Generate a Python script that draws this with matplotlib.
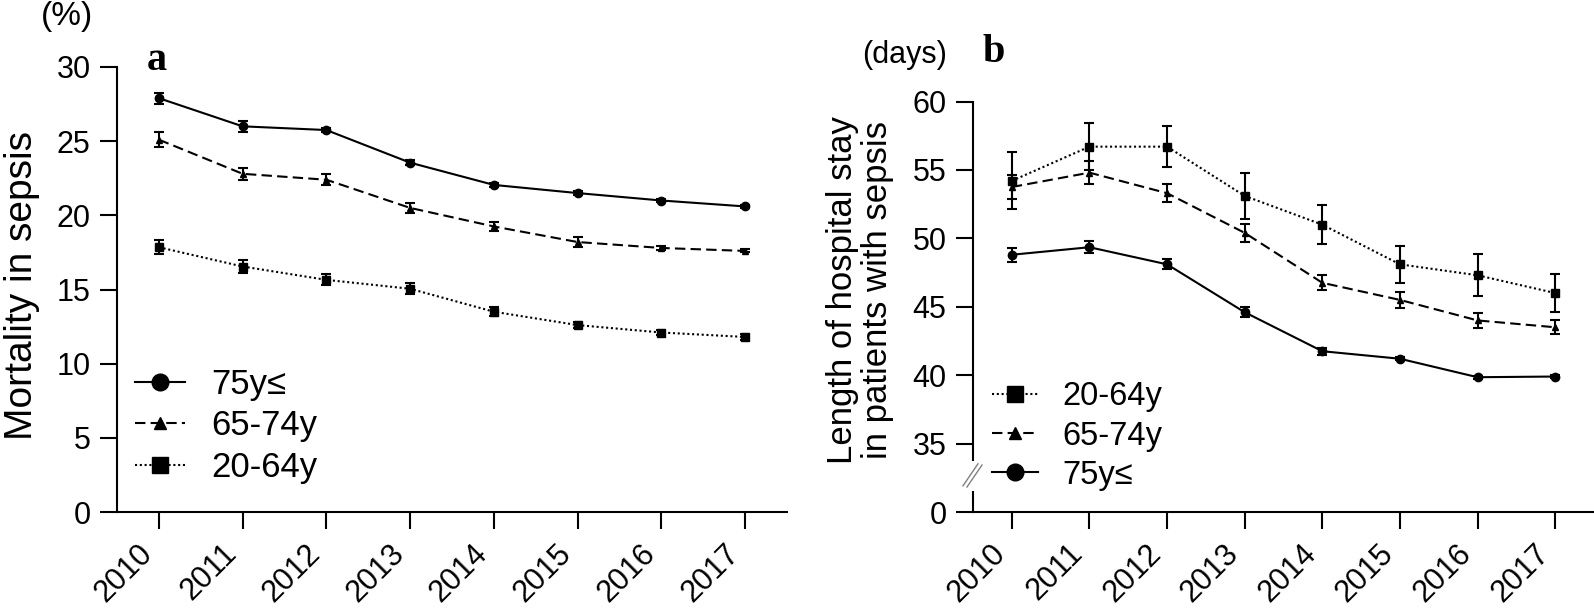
import matplotlib
matplotlib.use("Agg")
import matplotlib.pyplot as plt
from matplotlib.lines import Line2D

plt.rcParams['font.family'] = ['Liberation Sans', 'DejaVu Sans']

# ---------------- data ----------------
years = [2010, 2011, 2012, 2013, 2014, 2015, 2016, 2017]

# (a) mortality in sepsis, %
mort_75 = [27.9, 26.0, 25.75, 23.55, 22.05, 21.5, 21.0, 20.6]
mort_75_err = [0.38, 0.36, 0.15, 0.15, 0.15, 0.12, 0.12, 0.12]
mort_65 = [25.1, 22.8, 22.4, 20.5, 19.25, 18.2, 17.8, 17.6]
mort_65_err = [0.5, 0.42, 0.38, 0.35, 0.33, 0.33, 0.15, 0.1]
mort_20 = [17.85, 16.55, 15.65, 15.05, 13.5, 12.6, 12.1, 11.8]
mort_20_err = [0.48, 0.43, 0.38, 0.38, 0.3, 0.22, 0.2, 0.2]

# (b) length of hospital stay, days
los_20 = [54.2, 56.7, 56.7, 53.1, 51.0, 48.1, 47.3, 46.0]
los_20_err = [2.08, 1.7, 1.52, 1.68, 1.45, 1.35, 1.55, 1.39]
los_65 = [53.75, 54.8, 53.3, 50.4, 46.75, 45.5, 44.0, 43.5]
los_65_err = [0.85, 0.83, 0.68, 0.68, 0.55, 0.57, 0.54, 0.52]
los_75 = [48.8, 49.35, 48.1, 44.6, 41.75, 41.2, 39.85, 39.9]
los_75_err = [0.5, 0.43, 0.37, 0.37, 0.25, 0.1, 0.1, 0.1]

W, H = 1594, 614


def rect(x0, y0, x1, y1):
    # pixel box (top-left origin) -> figure fraction rect
    return [x0 / W, (H - y1) / H, (x1 - x0) / W, (y1 - y0) / H]


def px(x, y):
    return x / W, (H - y) / H


fig = plt.figure(figsize=(W / 100, H / 100), dpi=100)

TICK_FS = 22
LW = 1.5
styles = {
    '75': dict(ls='-', marker='o', ms=6),
    '65': dict(ls=(0, (5, 2.5)), marker='^', ms=4.5),
    '20': dict(ls=(0, (1, 1.3)), marker='s', ms=5.5),
}


def style_axis(ax):
    for s in ['top', 'right']:
        ax.spines[s].set_visible(False)
    for s in ['left', 'bottom']:
        ax.spines[s].set_linewidth(1.5)
    ax.tick_params(length=12, width=1.5, labelsize=TICK_FS, pad=7)


def draw(ax, y, err, key):
    c = ax.errorbar(years, y, yerr=err, color='black', lw=LW, elinewidth=1.5,
                    capsize=3.5, capthick=1.5, **styles[key])
    return c[0]


def year_ticks(ax):
    ax.set_xticks(years)
    ax.set_xticklabels([str(y) for y in years], rotation=45, ha='right',
                       va='top', fontsize=TICK_FS)


# ---------------- panel a ----------------
ax1 = fig.add_axes(rect(117, 67, 787, 512))
style_axis(ax1)
h75 = draw(ax1, mort_75, mort_75_err, '75')
h65 = draw(ax1, mort_65, mort_65_err, '65')
h20 = draw(ax1, mort_20, mort_20_err, '20')
ax1.set_xlim(2009.5, 2017.5)
ax1.set_ylim(0, 30)
ax1.set_yticks(range(0, 31, 5))
ax1.set_yticklabels([str(v) for v in range(0, 31, 5)], fontsize=TICK_FS)
year_ticks(ax1)
ax1.legend([h75, h65, h20], ['75y≤', '65-74y', '20-64y'],
           loc='center left', bbox_to_anchor=px(135, 426),
           bbox_transform=fig.transFigure, frameon=False, fontsize=25,
           markerscale=2, handlelength=1.45, handletextpad=0.75,
           labelspacing=0.25, borderpad=0, borderaxespad=0)

fig.text(*px(22, 285), 'Mortality in sepsis', rotation=90, fontsize=28,
         ha='center', va='center')
fig.text(*px(67, 16), '(%)', fontsize=24, ha='center', va='center')
fig.text(*px(157, 60), 'a', fontsize=29, fontweight='bold',
         family='Liberation Serif', ha='center', va='center')

# ---------------- panel b (broken y axis) ----------------
ax_top = fig.add_axes(rect(973, 101.5, 1594, 460))
ax_bot = fig.add_axes(rect(973, 492, 1594, 512))
for ax in (ax_top, ax_bot):
    style_axis(ax)
    ax.set_xlim(2009.5, 2017.5)
ax_top.spines['bottom'].set_visible(False)
ax_top.tick_params(axis='x', bottom=False, labelbottom=False)

g20 = draw(ax_top, los_20, los_20_err, '20')
g65 = draw(ax_top, los_65, los_65_err, '65')
g75 = draw(ax_top, los_75, los_75_err, '75')
ax_top.set_ylim(33.8, 60)
ax_top.set_yticks(range(35, 61, 5))
ax_top.set_yticklabels([str(v) for v in range(35, 61, 5)], fontsize=TICK_FS)

ax_bot.set_ylim(0, 20 / 13.68)
ax_bot.set_yticks([0])
ax_bot.set_yticklabels(['0'], fontsize=TICK_FS)
year_ticks(ax_bot)

ax_top.legend([g20, g65, g75], ['20-64y', '65-74y', '75y≤'],
              loc='center left', bbox_to_anchor=px(992, 436),
              bbox_transform=fig.transFigure, frameon=False, fontsize=23.5,
              markerscale=2, handlelength=1.4, handletextpad=0.75,
              labelspacing=0.25, borderpad=0, borderaxespad=0)

# break marks on the y axis
for dx in (0, -4):
    x0, y0 = px(967 + dx, 487 + dx * 0.3)
    x1, y1 = px(982 + dx, 465 + dx * 0.3)
    fig.add_artist(Line2D([x0, x1], [y0, y1], color='gray', lw=1,
                          transform=fig.transFigure))

fig.text(*px(860, 290), 'Length of hospital stay\nin patients with sepsis',
         rotation=90, fontsize=25, ha='center', va='center',
         multialignment='center', linespacing=1.1)
fig.text(*px(905, 55), '(days)', fontsize=22, ha='center', va='center')
fig.text(*px(994, 53), 'b', fontsize=29, fontweight='bold',
         family='Liberation Serif', ha='center', va='center')

fig.savefig('out.png', dpi=100)
